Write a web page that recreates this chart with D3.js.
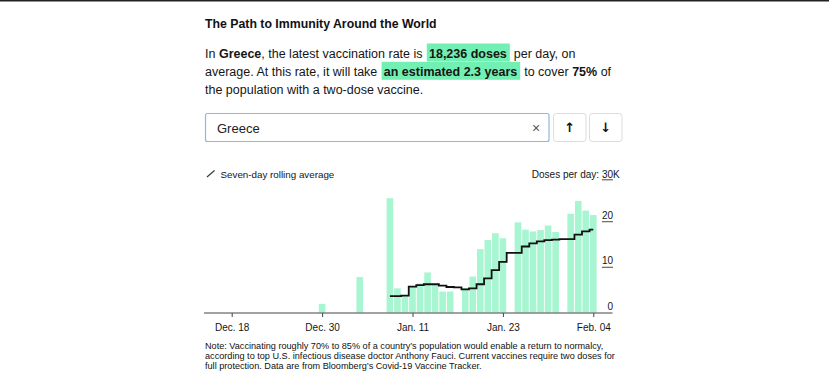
<!DOCTYPE html>
<html><head><meta charset="utf-8">
<script src="https://cdn.jsdelivr.net/npm/d3@7"></script>
<style>
body{margin:0;background:#fff}
svg{display:block;font-family:"Liberation Sans",Arial,Helvetica,sans-serif}
</style>
</head><body>
<svg id="c" width="829" height="380"></svg>
<script>
// ---- data (thousands of doses per day) ----
const barDates = ["2020-12-30","2021-01-04","2021-01-08","2021-01-09","2021-01-10","2021-01-11","2021-01-12","2021-01-13","2021-01-14","2021-01-15","2021-01-16","2021-01-18","2021-01-19","2021-01-20","2021-01-21","2021-01-22","2021-01-23","2021-01-25","2021-01-26","2021-01-27","2021-01-28","2021-01-29","2021-01-30","2021-02-01","2021-02-02","2021-02-03","2021-02-04"];
const barValues = [1.9,7.8,25.1,5.3,3.6,5.7,6.4,8.8,6.3,4.6,4.6,5.4,7.9,13.9,15.9,17.4,16.3,19.8,18.2,17.8,18.1,19.1,17.7,21.7,24.5,22.4,21.4];
const avgDates = ["2021-01-08","2021-01-09","2021-01-10","2021-01-11","2021-01-12","2021-01-13","2021-01-14","2021-01-15","2021-01-16","2021-01-17","2021-01-18","2021-01-19","2021-01-20","2021-01-21","2021-01-22","2021-01-23","2021-01-24","2021-01-25","2021-01-26","2021-01-27","2021-01-28","2021-01-29","2021-01-30","2021-01-31","2021-02-01","2021-02-02","2021-02-03","2021-02-04"];
const avgValues = [3.6,3.6,3.7,5.7,6.0,6.2,6.2,5.9,5.6,5.5,5.1,5.3,6.2,7.5,9.3,11.1,13.1,13.1,14.5,15.2,15.6,15.9,16.0,16.1,16.1,17.1,17.8,18.2];
const xTickDates = ["2020-12-18","2020-12-30","2021-01-11","2021-01-23","2021-02-04"];
const xTickLabels = ["Dec. 18","Dec. 30","Jan. 11","Jan. 23","Feb. 04"];
const yTicks = [0,10,20,30];
const yTickLabels = ["0","10","20","30"];

const titleText = "The Path to Immunity Around the World";
const paraLines = [
  [{t:"In "},{t:"Greece",b:1},{t:", the latest vaccination rate is "},{t:"18,236 doses",h:1},{t:" per day, on"}],
  [{t:"average. At this rate, it will take "},{t:"an estimated 2.3 years",h:1},{t:" to cover "},{t:"75%",b:1},{t:" of"}],
  [{t:"the population with a two-dose vaccine."}]
];
const noteLines = [
  "Note: Vaccinating roughly 70% to 85% of a country\u2019s population would enable a return to normalcy,",
  "according to top U.S. infectious disease doctor Anthony Fauci. Current vaccines require two doses for",
  "full protection. Data are from Bloomberg\u2019s Covid-19 Vaccine Tracker."
];

const parse = d3.utcParse("%Y-%m-%d");
const svg = d3.select("#c");
const ink = "#151515";

// top rule
svg.append("rect").attr("x",0).attr("y",0).attr("width",829).attr("height",1.5).attr("fill","#222");

// title
svg.append("text").attr("x",205).attr("y",28).attr("font-size",12.3).attr("font-weight","bold")
  .attr("fill","#111").text(titleText);

// paragraph
const pg = svg.append("g");
const paraY = [57.5, 75.8, 94];
paraLines.forEach((segs,i)=>{
  let cx = 205;
  const y = paraY[i];
  segs.forEach(s=>{
    const t = pg.append("text").attr("y",y).attr("font-size",12.5)
      .attr("font-weight",(s.b||s.h)?"bold":"normal").attr("fill",ink)
      .attr("xml:space","preserve").style("white-space","pre").text(s.t);
    if(s.h){
      t.attr("x",cx+3);
      const w = t.node().getComputedTextLength();
      pg.insert("rect",":first-child").attr("x",cx+0.8).attr("y",y-14).attr("width",w+5.2).attr("height",18)
        .attr("fill","#72f0b3");
      cx += w+6.5;
    } else {
      t.attr("x",cx);
      cx += t.node().getComputedTextLength();
    }
  });
});

// search box
svg.append("rect").attr("x",205.5).attr("y",113.5).attr("width",343.5).attr("height",28).attr("rx",2)
  .attr("fill","#fff").attr("stroke","#93b6db").attr("stroke-width",1.2);
svg.append("text").attr("x",217).attr("y",132.5).attr("font-size",13).attr("fill","#222").text("Greece");
svg.append("text").attr("x",536).attr("y",132.5).attr("font-size",14).attr("text-anchor","middle").attr("fill","#555").text("\u00d7");
[[553.5,"\u2191"],[589.5,"\u2193"]].forEach(([bx,ch])=>{
  svg.append("rect").attr("x",bx).attr("y",113.5).attr("width",32.5).attr("height",28).attr("rx",3)
    .attr("fill","#fff").attr("stroke","#dcdcdc");
  svg.append("text").attr("x",bx+16.25).attr("y",132).attr("font-size",13).attr("font-weight","bold")
    .attr("text-anchor","middle").attr("fill","#111").style("font-family","DejaVu Sans").text(ch);
});

// legend row
svg.append("line").attr("x1",207).attr("y1",177).attr("x2",214.5).attr("y2",170.5).attr("stroke","#333").attr("stroke-width",1.1);
svg.append("text").attr("x",220.5).attr("y",177.5).attr("font-size",9.8).attr("fill",ink).text("Seven-day rolling average");

// scales
const x = d3.scaleUtc().domain([parse(xTickDates[0]), parse(xTickDates[xTickDates.length-1])]).range([231.7,593.3]);
const y = d3.scaleLinear().domain([0,30]).range([312.5,175.9]);
const day = x(parse("2021-01-02")) - x(parse("2021-01-01"));
const bw = day*0.88;

// bars
svg.append("g").selectAll("rect").data(barDates.map((d,i)=>({d:parse(d),v:barValues[i]}))).join("rect")
  .attr("x",d=>x(d.d)-bw/2).attr("width",bw)
  .attr("y",d=>y(d.v)).attr("height",d=>y(0)-y(d.v))
  .attr("fill","#a8f5d2");

// average line
const line = d3.line().x(d=>x(d.d)).y(d=>y(d.v)).curve(d3.curveStep);
svg.append("path").datum(avgDates.map((d,i)=>({d:parse(d),v:avgValues[i]})))
  .attr("d",line).attr("fill","none").attr("stroke","#111").attr("stroke-width",1.8);

// x axis
svg.append("line").attr("x1",204).attr("x2",612.5).attr("y1",y(0)+0.5).attr("y2",y(0)+0.5).attr("stroke","#444").attr("stroke-width",1);
const xa = svg.append("g").attr("transform",`translate(0,${y(0)+0.5})`)
  .call(d3.axisBottom(x).tickValues(xTickDates.map(parse)).tickFormat((d,i)=>xTickLabels[i]).tickSize(4).tickSizeOuter(0));
xa.select(".domain").remove();
xa.selectAll(".tick line").attr("stroke","#444");
xa.selectAll(".tick text").attr("font-size",10).attr("fill",ink).attr("dy",0).attr("y",17.5)
  .style("font-family","Liberation Sans, Arial, sans-serif");

// y labels (right side)
const yg = svg.append("g");
yTicks.forEach((v,i)=>{
  const top = v===30;
  const ty = top ? 177.5 : y(v)-2.5;
  const t = yg.append("text").attr("x",613).attr("y",ty).attr("font-size",10).attr("text-anchor","end")
    .attr("fill",ink).text(yTickLabels[i]);
  const w = t.node().getComputedTextLength();
  if(v!==0){
    const uy = top ? 179.8 : y(v)+0.3;
    yg.append("line").attr("x1",613-w).attr("x2",613).attr("y1",uy).attr("y2",uy).attr("stroke","#333").attr("stroke-width",0.9);
  }
  if(top){
    yg.append("text").attr("x",613).attr("y",ty).attr("font-size",10).attr("fill",ink).text("K");
    yg.append("text").attr("x",613-w).attr("y",ty).attr("font-size",10).attr("text-anchor","end")
      .attr("fill",ink).attr("xml:space","preserve").style("white-space","pre").text("Doses per day: ");
  }
});

// note
svg.append("g").selectAll("text").data(noteLines).join("text")
  .attr("x",205).attr("y",(d,i)=>348.5+i*10).attr("font-size",9.15).attr("fill","#111").text(d=>d);
</script>
</body></html>
